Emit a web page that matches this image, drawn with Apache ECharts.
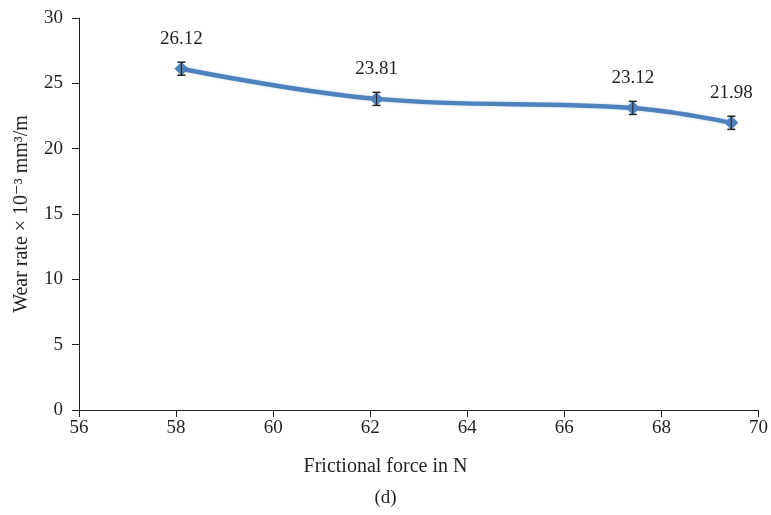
<!DOCTYPE html>
<html>
<head>
<meta charset="utf-8">
<script src="https://cdn.jsdelivr.net/npm/echarts@6/dist/echarts.min.js"></script>
<style>
html,body{margin:0;padding:0;background:#fff;}
#chart{width:771px;height:515px;}
</style>
</head>
<body>
<div id="chart"></div>
<script>
var frictionalForce = [58.11, 62.13, 67.41, 69.44];
var wearRate = [26.12, 23.81, 23.12, 21.98];
var errorHalf = [0.5, 0.5, 0.5, 0.5];
var xTicks = [56, 58, 60, 62, 64, 66, 68, 70];
var yTicks = [0, 5, 10, 15, 20, 25, 30];

var FONT = '"Liberation Serif", "DejaVu Serif", serif';
var TXT = '#231f20';
var lineData = frictionalForce.map(function (x, i) { return [x, wearRate[i]]; });
var errData = frictionalForce.map(function (x, i) { return [x, wearRate[i] - errorHalf[i], wearRate[i] + errorHalf[i]]; });

var chart = echarts.init(document.getElementById('chart'));
chart.setOption({
  backgroundColor: '#fff',
  animation: false,
  title: [
    { text: 'Frictional force in N', left: 'center', top: 457, padding: 0,
      textStyle: { fontFamily: FONT, fontSize: 20, fontWeight: 'normal', color: TXT } },
    { text: '(d)', left: 'center', top: 489, padding: 0,
      textStyle: { fontFamily: FONT, fontSize: 19, fontWeight: 'normal', color: TXT } }
  ],
  grid: { left: 79, right: 9, top: 18, bottom: 105, containLabel: false },
  xAxis: {
    type: 'value', min: xTicks[0], max: xTicks[xTicks.length - 1], interval: 2,
    axisLine: { onZero: false, lineStyle: { color: TXT, width: 1 } },
    axisTick: { show: true, inside: false, length: 7, lineStyle: { color: TXT } },
    axisLabel: { fontFamily: FONT, fontSize: 19, color: TXT, margin: 9 },
    splitLine: { show: false }
  },
  yAxis: {
    type: 'value', min: yTicks[0], max: yTicks[yTicks.length - 1], interval: 5,
    name: 'Wear rate × 10⁻³ mm³/m', nameLocation: 'middle', nameGap: 47, nameRotate: 90,
    nameTextStyle: { fontFamily: FONT, fontSize: 20, color: TXT },
    axisLine: { show: true, lineStyle: { color: TXT, width: 1 } },
    axisTick: { show: true, inside: false, length: 7, lineStyle: { color: TXT } },
    axisLabel: { fontFamily: FONT, fontSize: 19, color: TXT, margin: 16 },
    splitLine: { show: false }
  },
  series: [
    {
      type: 'line', data: lineData, smooth: 0.4,
      symbol: 'diamond', symbolSize: 14,
      lineStyle: { color: '#4f81bd', width: 4.5, shadowColor: 'rgba(79,129,189,0.35)', shadowBlur: 3 },
      itemStyle: { color: '#4f81bd' },
      label: { show: true, position: 'top', distance: 13,
        fontFamily: FONT, fontSize: 19, color: TXT,
        formatter: function (p) { return p.value[1].toFixed(2); } },
      z: 2
    },
    {
      type: 'custom', data: errData, z: 3,
      renderItem: function (params, api) {
        var x = api.value(0);
        var lo = api.coord([x, api.value(1)]);
        var hi = api.coord([x, api.value(2)]);
        var w = 4;
        var st = { stroke: '#222', lineWidth: 1.5 };
        return { type: 'group', children: [
          { type: 'line', shape: { x1: lo[0], y1: lo[1], x2: hi[0], y2: hi[1] }, style: { stroke: '#222', lineWidth: 1 } },
          { type: 'line', shape: { x1: lo[0] - w, y1: lo[1], x2: lo[0] + w, y2: lo[1] }, style: st },
          { type: 'line', shape: { x1: hi[0] - w, y1: hi[1], x2: hi[0] + w, y2: hi[1] }, style: st }
        ]};
      }
    }
  ]
});
</script>
</body>
</html>
